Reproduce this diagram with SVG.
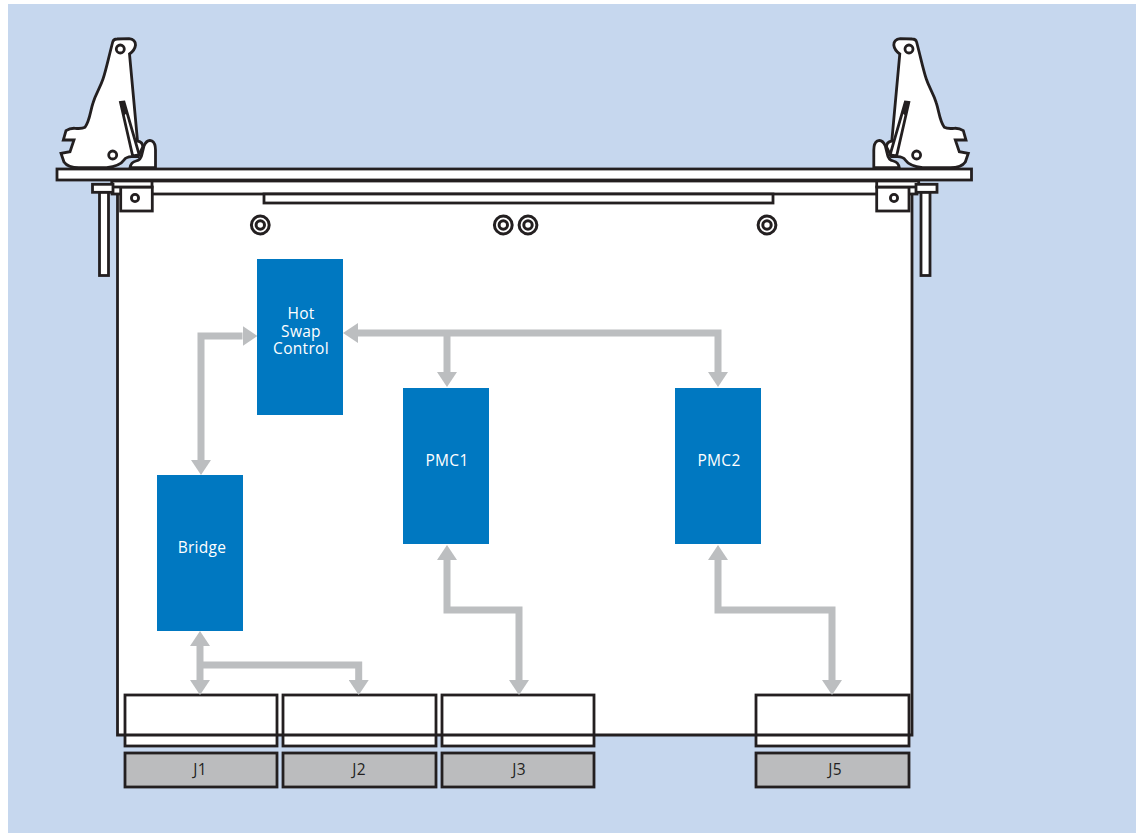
<svg xmlns="http://www.w3.org/2000/svg" xmlns:xlink="http://www.w3.org/1999/xlink" width="1143" height="833" viewBox="0 0 1143 833">
<style>
.o{fill:#fff;stroke:#231f20;stroke-width:2.8}
.n{fill:none;stroke:#231f20;stroke-width:2.8}
.s{fill:none;stroke:#231f20;stroke-width:3}
.b{fill:#0078c1}
.g{fill:#bbbcbe;stroke:#231f20;stroke-width:2.8}
.c{fill:none;stroke:#bcbec0;stroke-width:7}
.t{font-family:"Open Sans","Liberation Sans",Arial,sans-serif;font-size:15.5px;text-anchor:middle;letter-spacing:.3px}
.w{fill:#fff}
.k{fill:#231f20}
</style>
<defs>
<marker id="a" markerUnits="userSpaceOnUse" markerWidth="15" markerHeight="20" refX="0" refY="10" orient="auto-start-reverse"><path d="M0 0L15 10L0 20Z" fill="#bcbec0"/></marker>
<g id="latch">
<path class="o" d="M130 167.7Q131 162 136 161Q141 160 142 154L144 146Q147 139 152 141Q155.500 143 155.500 150L155.500 167.700Z"/>
<path class="o" d="M112.700 42Q113.500 39 117 39L129 38.700Q135.500 39.500 135.500 45Q135 50 129.500 54L137.500 141Q143 142 142.700 147L138 156.700L131.700 156.700Q126 157 124 160Q120 166 106.700 167.700L80 167.700Q68 168 64 162L61 153.300L70 151.700L74 140L63.300 140L66 130.700Q70 128 75 128.300Q82 129 85 127.300C90 120 90 112 93 103C96 93 100 88 103 79C106 70 108 60 112.700 42Z"/>
<path class="o" d="M120.500 102.500L124 102L139.300 155L132.700 156Z"/>
<path class="k" d="M120.500 102L124 102L127 113L123.500 116Z"/>
<circle class="o" cx="120.300" cy="49" r="4"/>
<circle class="o" cx="112.700" cy="155" r="4"/>
</g>
<g id="screw"><circle class="s" r="8.900"/><circle class="s" r="4.200"/></g>
</defs>
<rect width="1143" height="833" fill="#fff"/>
<rect x="8" y="4" width="1128" height="829" fill="#c6d7ee"/>
<g id="board-panel"><rect x="117.500" y="181" width="794.500" height="554" fill="#fff"/></g>
<g id="J1-socket"><rect class="o" x="125" y="695" width="152" height="51"/></g>
<g id="J2-socket"><rect class="o" x="283" y="695" width="153" height="51"/></g>
<g id="J3-socket"><rect class="o" x="442" y="695" width="152" height="51"/></g>
<g id="J5-socket"><rect class="o" x="756" y="695" width="153" height="51"/></g>
<g id="board-outline"><path class="n" d="M117.500 181V735H912V181"/></g>
<g id="J1"><rect class="g" x="125" y="753" width="152" height="34"/><text class="t k" x="200" y="775">J1</text></g>
<g id="J2"><rect class="g" x="283" y="753" width="153" height="34"/><text class="t k" x="359" y="775">J2</text></g>
<g id="J3"><rect class="g" x="442" y="753" width="152" height="34"/><text class="t k" x="519" y="775">J3</text></g>
<g id="J5"><rect class="g" x="756" y="753" width="153" height="34"/><text class="t k" x="835" y="775">J5</text></g>
<g id="frame">
<rect class="o" x="112" y="181" width="805" height="13"/>
<rect class="o" x="264" y="194" width="509" height="9"/>
<rect class="o" x="120.700" y="187" width="31.600" height="24"/>
<rect class="o" x="112" y="181" width="40" height="6"/>
<rect class="o" x="876.700" y="187" width="32.300" height="24"/>
<rect class="o" x="876.700" y="181" width="42" height="6"/>
<circle class="o" cx="135" cy="198" r="3.600"/>
<circle class="o" cx="894" cy="198" r="3.600"/>
<rect class="o" x="99.500" y="192" width="9" height="83.500"/>
<rect class="o" x="92.500" y="184.300" width="20.500" height="8"/>
<rect class="o" x="921" y="192" width="9" height="83.500"/>
<rect class="o" x="916" y="184.300" width="21" height="8"/>
<rect class="o" x="57" y="169" width="914.500" height="11"/>
</g>
<g id="latch-left"><use href="#latch" xlink:href="#latch"/></g>
<g id="latch-right"><use href="#latch" xlink:href="#latch" transform="translate(1029.300 0) scale(-1 1)"/></g>
<g id="screws">
<use href="#screw" xlink:href="#screw" x="260.300" y="225"/>
<use href="#screw" xlink:href="#screw" x="503.300" y="225"/>
<use href="#screw" xlink:href="#screw" x="528" y="225"/>
<use href="#screw" xlink:href="#screw" x="767" y="225"/>
</g>
<g id="connectors">
<path class="c" marker-start="url(#a)" marker-end="url(#a)" d="M242.500 336H201V460"/>
<path class="c" marker-start="url(#a)" marker-end="url(#a)" d="M358 333H718V372"/>
<path class="c" marker-end="url(#a)" d="M447 333V372"/>
<path class="c" marker-start="url(#a)" marker-end="url(#a)" d="M200 646V680"/>
<path class="c" marker-end="url(#a)" d="M200 665H358.700V680"/>
<path class="c" marker-start="url(#a)" marker-end="url(#a)" d="M447 560V610H519V680"/>
<path class="c" marker-start="url(#a)" marker-end="url(#a)" d="M718 560V610H832V680"/>
</g>
<g id="hot-swap"><rect class="b" x="257" y="259" width="86" height="156"/><text class="t w" x="301" y="319">Hot</text><text class="t w" x="301" y="337">Swap</text><text class="t w" x="301" y="354">Control</text></g>
<g id="pmc1"><rect class="b" x="403" y="388" width="86" height="156"/><text class="t w" x="447" y="466">PMC1</text></g>
<g id="pmc2"><rect class="b" x="675" y="388" width="86" height="156"/><text class="t w" x="719" y="466">PMC2</text></g>
<g id="bridge"><rect class="b" x="157" y="475" width="86" height="156"/><text class="t w" x="202" y="553">Bridge</text></g>
</svg>
